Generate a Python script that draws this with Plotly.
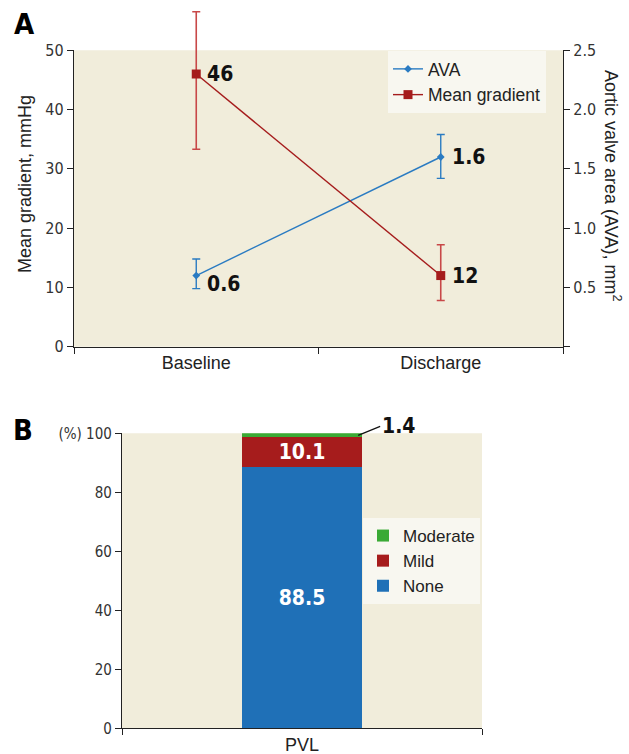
import plotly.graph_objects as go

# ---------------- data ----------------
categories = ["Baseline", "Discharge"]
mean_gradient = [46, 12]
mg_err_plus = [10.5, 5.2]
mg_err_minus = [12.7, 4.2]
ava = [0.6, 1.6]
ava_err_plus = [0.14, 0.19]
ava_err_minus = [0.11, 0.18]

pvl_category = ["PVL"]
pvl_none = [88.5]
pvl_mild = [10.1]
pvl_moderate = [1.4]

left_ticks = [0, 10, 20, 30, 40, 50]
right_ticks = [0, 0.5, 1.0, 1.5, 2.0, 2.5]
right_ticktext = ["", "0.5", "1.0", "1.5", "2.0", "2.5"]
b_ticks = [0, 20, 40, 60, 80, 100]
b_ticktext = ["0", "20", "40", "60", "80", "(%) 100"]

# ---------------- style ----------------
W, H = 629, 754
BG = "#f1eddb"
BLUE = "#2a7bc2"
RED = "#a51c1c"
RED_ERR = "#c84848"
BAR_BLUE = "#1f70b7"
BAR_RED = "#a61c1c"
BAR_GREEN = "#3aaa35"
AXIS = "#222222"
COND = "DejaVu Sans Condensed, DejaVu Sans, sans-serif"
TEXTFONT = "Liberation Sans, Arial, sans-serif"
TICKFONT = dict(family=COND, size=16, color="#333333")
BOLDNUM = dict(family=COND, size=21, color="#111111", weight="bold")

# panel A plot area in pixels
A_LEFT, A_RIGHT, A_TOP, A_BOTTOM = 74, 563, 50.3, 346.7
A_MAX = 50


def px_x(p):
    return p / W


def px_y(p):
    return 1 - p / H


# invisible twin axis, same scale as the left axis but taller, so the
# baseline error bar can extend above the panel like in the original
EXT_TOP = 0
ext_range_top = A_MAX * (A_BOTTOM - EXT_TOP) / (A_BOTTOM - A_TOP)

fig = go.Figure()

# Panel A traces
fig.add_trace(go.Scatter(
    x=categories, y=ava, name="AVA", xaxis="x", yaxis="y2",
    mode="lines+markers",
    line=dict(color=BLUE, width=1.4),
    marker=dict(symbol="diamond", size=6, color=BLUE),
    error_y=dict(type="data", symmetric=False, array=ava_err_plus,
                 arrayminus=ava_err_minus, color=BLUE, thickness=1.4, width=4),
    cliponaxis=False, legend="legend",
))
fig.add_trace(go.Scatter(
    x=categories, y=mean_gradient, name="Mean gradient", xaxis="x", yaxis="y4",
    mode="lines+markers",
    line=dict(color=RED, width=1.4),
    marker=dict(symbol="square", size=9, color=RED),
    error_y=dict(type="data", symmetric=False, array=mg_err_plus,
                 arrayminus=mg_err_minus, color=RED_ERR, thickness=1.6, width=4),
    cliponaxis=False, legend="legend",
))

# Panel B traces
bar_text_font = dict(family=COND, size=21, color="white", weight="bold")
fig.add_trace(go.Bar(
    x=pvl_category, y=pvl_none, name="None", xaxis="x2", yaxis="y3",
    marker=dict(color=BAR_BLUE, line=dict(width=0)), width=0.336,
    text=[f"{v:g}" for v in pvl_none], textposition="inside",
    insidetextanchor="middle", textfont=bar_text_font, constraintext="none",
    legend="legend2",
))
fig.add_trace(go.Bar(
    x=pvl_category, y=pvl_mild, name="Mild", xaxis="x2", yaxis="y3",
    marker=dict(color=BAR_RED, line=dict(width=0)), width=0.336,
    text=[f"{v:g}" for v in pvl_mild], textposition="inside",
    insidetextanchor="middle", textfont=bar_text_font, constraintext="none",
    legend="legend2",
))
fig.add_trace(go.Bar(
    x=pvl_category, y=pvl_moderate, name="Moderate", xaxis="x2", yaxis="y3",
    marker=dict(color=BAR_GREEN, line=dict(width=0)), width=0.336,
    textposition="none", legend="legend2",
))

annotations = []
# value labels panel A
for i, v in enumerate(mean_gradient):
    annotations.append(dict(x=i, y=v, xref="x", yref="y", text=f"{v:g}",
                            showarrow=False, xanchor="left", yanchor="middle",
                            xshift=9, font=BOLDNUM))
for i, v in enumerate(ava):
    annotations.append(dict(x=i, y=v, xref="x", yref="y2", text=f"{v:g}",
                            showarrow=False, xanchor="left", yanchor="middle",
                            xshift=9, yshift=-8 if i == 0 else 0, font=BOLDNUM))
# 1.4 label with leader line
annotations.append(dict(x=0.156, y=pvl_none[0] + pvl_mild[0] + pvl_moderate[0] / 2,
                        xref="x2", yref="y3", text=f"{pvl_moderate[0]:g}",
                        showarrow=True, arrowhead=0, arrowwidth=1.2, arrowcolor="#111",
                        ax=22, ay=-9, xanchor="left", yanchor="middle",
                        font=BOLDNUM))
# axis titles
annotations.append(dict(x=px_x(25), y=px_y(184), xref="paper", yref="paper",
                        xanchor="center", yanchor="middle",
                        text="Mean gradient, mmHg", textangle=-90, showarrow=False,
                        font=dict(family=TEXTFONT, size=18, color="#222")))
annotations.append(dict(x=px_x(613), y=px_y(185), xref="paper", yref="paper",
                        xanchor="center", yanchor="middle",
                        text="Aortic valve area (AVA), mm<sup>2</sup>", textangle=90,
                        showarrow=False,
                        font=dict(family=TEXTFONT, size=18, color="#222")))
# panel letters
annotations.append(dict(x=px_x(24), y=px_y(24), xref="paper", yref="paper", text="A",
                        xanchor="center", yanchor="middle", showarrow=False,
                        font=dict(family=COND, size=29, color="#000", weight="bold")))
annotations.append(dict(x=px_x(23), y=px_y(430), xref="paper", yref="paper", text="B",
                        xanchor="center", yanchor="middle", showarrow=False,
                        font=dict(family=COND, size=29, color="#000", weight="bold")))

shapes = [
    dict(type="rect", xref="x domain", yref="y domain", x0=0, x1=1, y0=0, y1=1,
         fillcolor=BG, line=dict(width=0), layer="below"),
    dict(type="rect", xref="x2 domain", yref="y3 domain", x0=0, x1=1, y0=0, y1=1,
         fillcolor=BG, line=dict(width=0), layer="below"),
]

axis_common = dict(showgrid=False, zeroline=False, showline=True, linecolor=AXIS,
                   linewidth=1.3, ticks="outside", ticklen=6, tickcolor=AXIS,
                   tickwidth=1.3, automargin=False, fixedrange=True)

fig.update_layout(
    width=W, height=H,
    margin=dict(l=0, r=0, t=0, b=0),
    paper_bgcolor="white",
    plot_bgcolor="rgba(0,0,0,0)",
    barmode="stack",
    showlegend=True,
    xaxis=dict(**axis_common, domain=[px_x(A_LEFT), px_x(A_RIGHT)], anchor="y",
               type="category", range=[-0.5, 1.5], tickson="boundaries",
               tickfont=dict(family=TEXTFONT, size=18, color="#222")),
    yaxis=dict(**axis_common, domain=[px_y(A_BOTTOM), px_y(A_TOP)], anchor="x",
               range=[0, A_MAX], tickvals=left_ticks, tickfont=TICKFONT),
    yaxis2=dict(**axis_common, overlaying="y", side="right", anchor="x",
                range=[0, 2.5], tickvals=right_ticks, ticktext=right_ticktext,
                tickfont=TICKFONT),
    yaxis4=dict(domain=[px_y(A_BOTTOM), px_y(EXT_TOP)], anchor="x",
                range=[0, ext_range_top], visible=False, fixedrange=True,
                showgrid=False, zeroline=False),
    xaxis2=dict(**axis_common, domain=[px_x(122), px_x(482)], anchor="y3",
                type="category", range=[-0.5, 0.5], tickson="boundaries",
                tickfont=dict(family=TEXTFONT, size=18, color="#222")),
    yaxis3=dict(**axis_common, domain=[px_y(728.3), px_y(433.3)], anchor="x2",
                range=[0, 100], tickvals=b_ticks, ticktext=b_ticktext,
                tickfont=dict(family=COND, size=15, color="#333")),
    legend=dict(x=px_x(388), y=px_y(51), xanchor="left", yanchor="top",
                bgcolor="#f8f7f0", borderwidth=0,
                font=dict(family=TEXTFONT, size=17.5, color="#222"),
                tracegroupgap=0),
    legend2=dict(x=px_x(363), y=px_y(518), xanchor="left", yanchor="top",
                 bgcolor="#f8f7f0", borderwidth=0, traceorder="reversed",
                 font=dict(family=TEXTFONT, size=17, color="#222")),
    annotations=annotations,
    shapes=shapes,
)

fig.write_html("out.html", config={"displayModeBar": False},
               post_script="document.body.style.margin='0px';document.body.style.overflow='hidden';")
